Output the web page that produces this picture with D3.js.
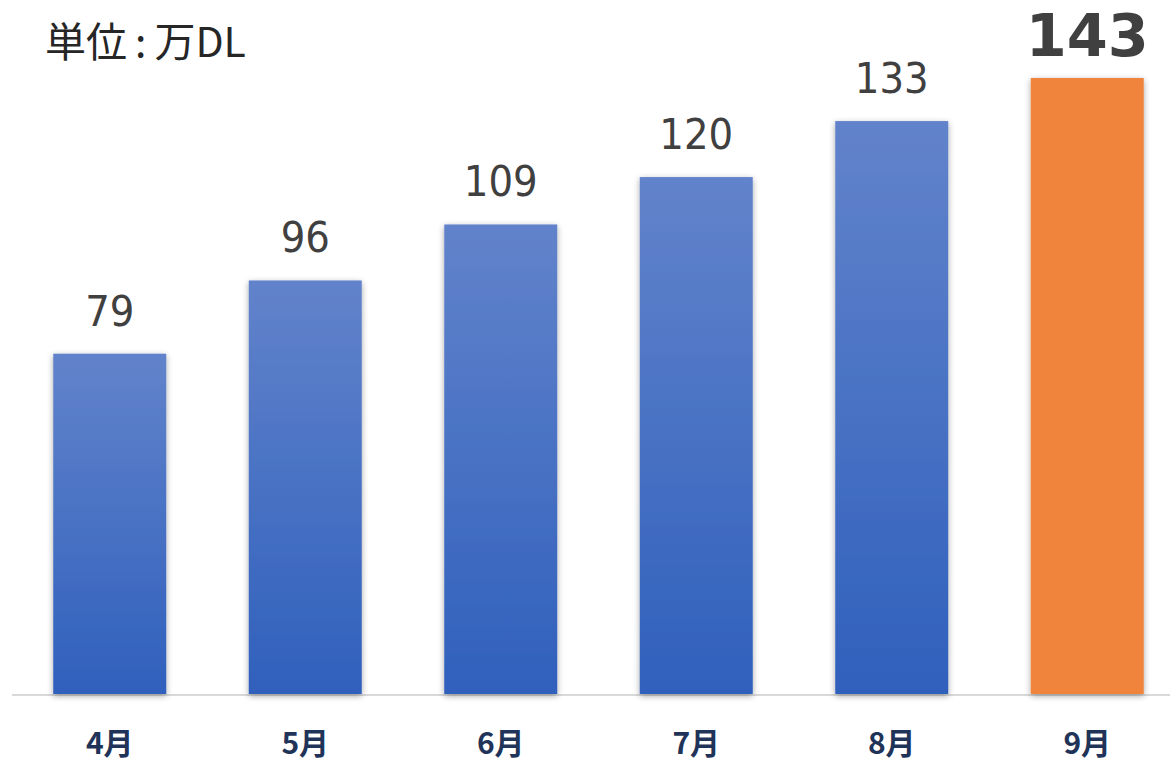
<!DOCTYPE html>
<html>
<head>
<meta charset="utf-8">
<script src="https://cdn.jsdelivr.net/npm/d3@7"></script>
<style>
  body { margin: 0; background: #fff; }
  svg { display: block; }
</style>
</head>
<body>
<div id="chart-area"></div>
<script>
// data
const months = ["4月", "5月", "6月", "7月", "8月", "9月"];
const values = [79, 96, 109, 120, 133, 143];
const unitParts = ["単位", ":", "万DL"];

const w = 1170;
const h = 762;
const baseY = 694;
const font = "'Noto Sans CJK JP', 'Noto Sans', sans-serif";
const last = values.length - 1;

let svg = d3.select("#chart-area")
  .append("svg")
  .attr("width", w)
  .attr("height", h);

let defs = svg.append("defs");

let grad = defs.append("linearGradient")
  .attr("id", "blueGrad")
  .attr("x1", 0).attr("y1", 0)
  .attr("x2", 0).attr("y2", 1);
grad.append("stop").attr("offset", "0%").attr("stop-color", "#6283cb");
grad.append("stop").attr("offset", "100%").attr("stop-color", "#2f60bc");

let shadow = defs.append("filter")
  .attr("id", "shadow")
  .attr("x", "-20%").attr("y", "-10%")
  .attr("width", "140%").attr("height", "120%");
shadow.append("feDropShadow")
  .attr("dx", 0).attr("dy", 2)
  .attr("stdDeviation", 3)
  .attr("flood-color", "#000")
  .attr("flood-opacity", 0.35);

let x = d3.scaleBand()
  .domain(months)
  .range([12, 1185])
  .paddingInner(0.422)
  .paddingOuter(0.211);

let y = d3.scaleLinear()
  .domain([0, 143])
  .range([baseY, 78]);

// axis line
svg.append("line")
  .attr("x1", 12)
  .attr("x2", w)
  .attr("y1", baseY + 1)
  .attr("y2", baseY + 1)
  .attr("stroke", "#d9d9d9")
  .attr("stroke-width", 2);

svg.selectAll("rect.bar")
  .data(values)
  .enter().append("rect")
  .attr("class", "bar")
  .attr("x", (d, i) => x(months[i]))
  .attr("width", x.bandwidth())
  .attr("y", d => y(d))
  .attr("height", d => baseY - y(d))
  .attr("fill", (d, i) => i === last ? "#f0843e" : "url(#blueGrad)")
  .attr("filter", "url(#shadow)");

// value labels
svg.selectAll("text.val")
  .data(values)
  .enter().append("text")
  .attr("class", "val")
  .attr("x", (d, i) => x(months[i]) + x.bandwidth() / 2)
  .attr("y", (d, i) => i === last ? y(d) - 22 : y(d) - 28)
  .attr("text-anchor", "middle")
  .attr("font-family", "'DejaVu Sans', sans-serif")
  .style("font-stretch", (d, i) => i === last ? "normal" : "condensed")
  .attr("font-size", (d, i) => i === last ? "59px" : "43px")
  .attr("font-weight", (d, i) => i === last ? "bold" : "normal")
  .attr("fill", "#404040")
  .text(d => d);

// month labels
svg.selectAll("text.month")
  .data(months)
  .enter().append("text")
  .attr("class", "month")
  .attr("x", d => x(d) + x.bandwidth() / 2)
  .attr("y", 754)
  .attr("text-anchor", "middle")
  .attr("font-family", font)
  .attr("font-size", "30px")
  .attr("font-weight", "bold")
  .attr("fill", "#1f3458")
  .text(d => d);

// unit label
let unit = svg.append("text")
  .attr("x", 45)
  .attr("y", 57)
  .attr("font-family", font)
  .attr("font-size", "41px")
  .attr("fill", "#262626");
unit.selectAll("tspan")
  .data(unitParts)
  .enter().append("tspan")
  .attr("dx", (d, i) => i === 0 ? 0 : 8)
  .text(d => d);
</script>
</body>
</html>
